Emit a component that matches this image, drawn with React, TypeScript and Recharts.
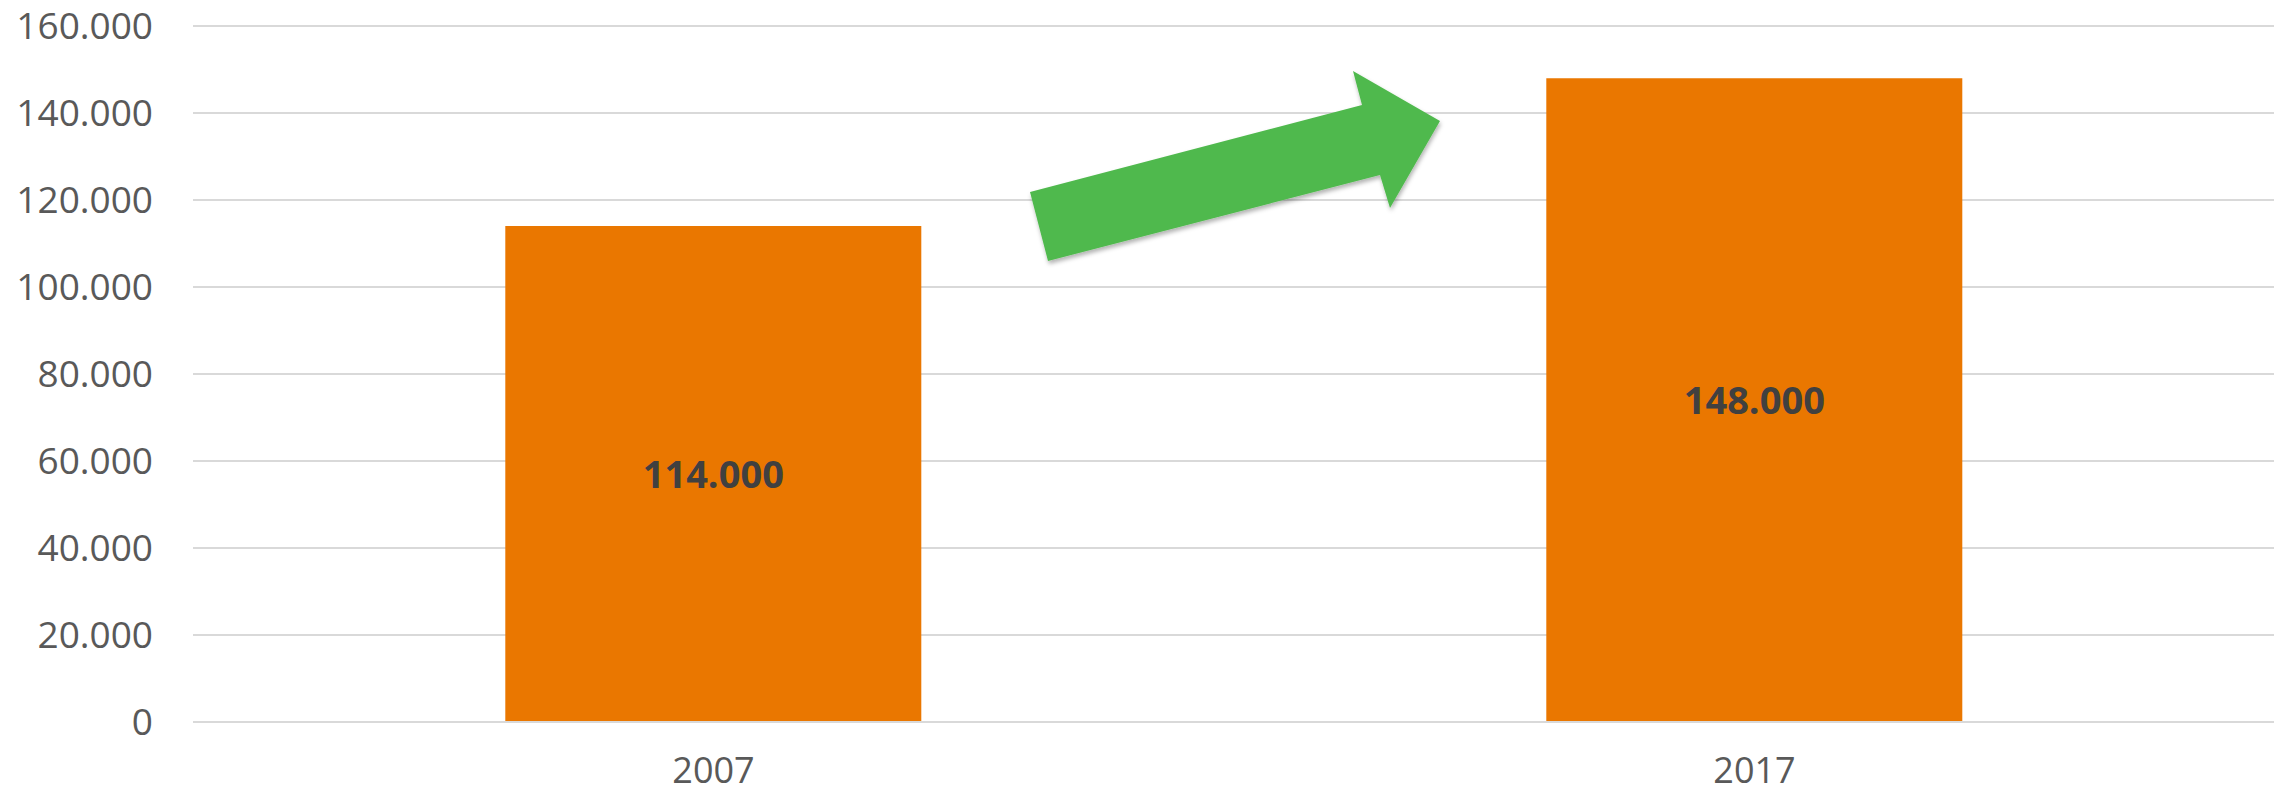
import { BarChart, Bar, XAxis, YAxis, CartesianGrid, LabelList } from 'recharts';

const years = ['2007', '2017'];
const employees = [114000, 148000];
const yTicks = [0, 20000, 40000, 60000, 80000, 100000, 120000, 140000, 160000];

const data = years.map((year, i) => ({ year, value: employees[i] }));

// dot as thousands separator, like the original
const fmt = (v: number) => String(v).replace(/\B(?=(\d{3})+(?!\d))/g, '.');

const FONT = '"Open Sans", sans-serif';

// growth arrow between the bars (decoration only)
const arrowPoints = '1040,261 1022,192 1354,105 1345,71 1432,121 1382,208 1372,175';

const App = () => {
  return (
    <div style={{ position: 'relative', width: 2274, height: 794, marginTop: -8, marginBottom: -8 }}>
      <BarChart
        width={2274}
        height={794}
        data={data}
        margin={{ top: 26, right: 7, bottom: 0, left: 0 }}
        barCategoryGap="30%"
      >
        <CartesianGrid vertical={false} stroke="#d9d9d9" strokeWidth={2} />
        <XAxis
          dataKey="year"
          axisLine={{ stroke: '#d9d9d9', strokeWidth: 2 }}
          tickLine={false}
          tickSize={0}
          tickMargin={35}
          height={72}
          tick={{ fill: '#595959', fontSize: 36, fontFamily: FONT }}
        />
        <YAxis
          domain={[0, 160000]}
          ticks={yTicks}
          interval={0}
          axisLine={false}
          tickLine={false}
          tickSize={0}
          tickMargin={40}
          width={185}
          tickFormatter={fmt}
          tick={{ fill: '#595959', fontSize: 37, fontFamily: FONT }}
        />
        <Bar dataKey="value" fill="#EA7700" isAnimationActive={false}>
          <LabelList
            dataKey="value"
            position="center"
            formatter={(v: any) => fmt(Number(v))}
            fill="#404040"
            fontSize={38}
            fontWeight="bold"
            fontFamily={FONT}
          />
        </Bar>
      </BarChart>
      <svg
        width={2274}
        height={794}
        style={{ position: 'absolute', left: 0, top: 0, pointerEvents: 'none' }}
      >
        <defs>
          <filter id="arrowShadow" x="-10%" y="-10%" width="120%" height="130%">
            <feDropShadow dx="1" dy="3" stdDeviation="2" floodColor="#000" floodOpacity="0.3" />
          </filter>
        </defs>
        <polygon points={arrowPoints} fill="#50B94D" filter="url(#arrowShadow)" />
      </svg>
    </div>
  );
};

export default App;
